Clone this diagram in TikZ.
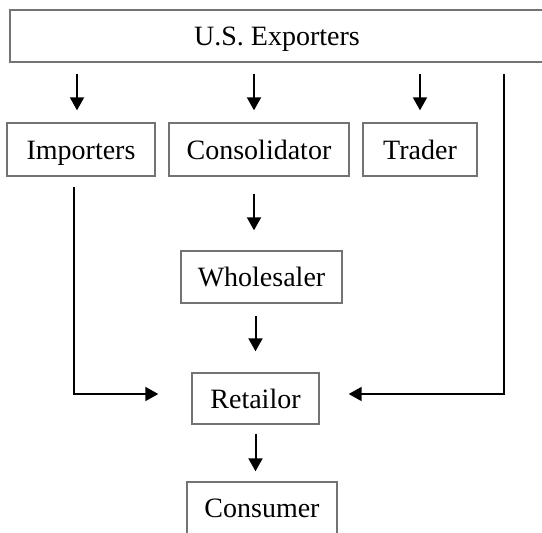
\documentclass[tikz,border=0pt]{standalone}
\usepackage{fontspec}
\setmainfont{Liberation Serif}
\usetikzlibrary{arrows.meta}
\begin{document}
\begin{tikzpicture}[x=0.5pt,y=-0.5pt,
    box/.style={draw=black!55,line width=0.7pt,inner sep=0pt,minimum height=26.5pt,
        text height=11pt,text depth=1.5pt,font=\fontsize{14}{16}\selectfont},
    arr/.style={line width=1pt,-{Triangle[length=6.5pt,width=7pt]}}]
    \useasboundingbox (0,0) rectangle (542,532);

    \node[box,minimum width=267pt,minimum height=26pt] (exp) at (277,36) {U.S. Exporters};
    \node[box,minimum width=74pt] (imp) at (81,149.5) {Importers};
    \node[box,minimum width=90pt] (con) at (259,149.5) {Consolidator};
    \node[box,minimum width=57pt] (trd) at (420,149.5) {Trader};
    \node[box,minimum width=80.5pt,minimum height=26pt] (whl) at (261.5,277) {Wholesaler};
    \node[box,minimum width=63.5pt,minimum height=25.5pt] (ret) at (255.5,398.5) {Retailor};
    \node[box,minimum width=75pt,minimum height=26pt] (cns) at (262,508) {Consumer};
    \coordinate (rt) at (504,62);

    \draw[arr,shorten <=5.5pt,shorten >=6pt] ([xshift=-2pt]exp.south -| imp.north) -- ([xshift=-2pt]imp.north);
    \draw[arr,shorten <=5.5pt,shorten >=6pt] ([xshift=-2.5pt]exp.south -| con.north) -- ([xshift=-2.5pt]con.north);
    \draw[arr,shorten <=5.5pt,shorten >=6pt] (exp.south -| trd.north) -- (trd.north);
    \draw[arr,shorten <=8.5pt,shorten >=10pt] ([xshift=-2.5pt]con.south) -- ([xshift=-2.5pt]con.south |- whl.north);
    \draw[arr,shorten <=6pt,shorten >=10.5pt] (whl.south -| ret.north) -- (ret.north);
    \draw[arr,shorten <=4.5pt,shorten >=5pt] (ret.south) -- (ret.south |- cns.north);
    \draw[arr,shorten <=5pt,shorten >=16.5pt] ([xshift=-3.5pt]imp.south) |- ([yshift=2.25pt]ret.west);
    \draw[arr,shorten <=6pt,shorten >=14.5pt] (rt) |- ([yshift=2.25pt]ret.east);
\end{tikzpicture}
\end{document}
